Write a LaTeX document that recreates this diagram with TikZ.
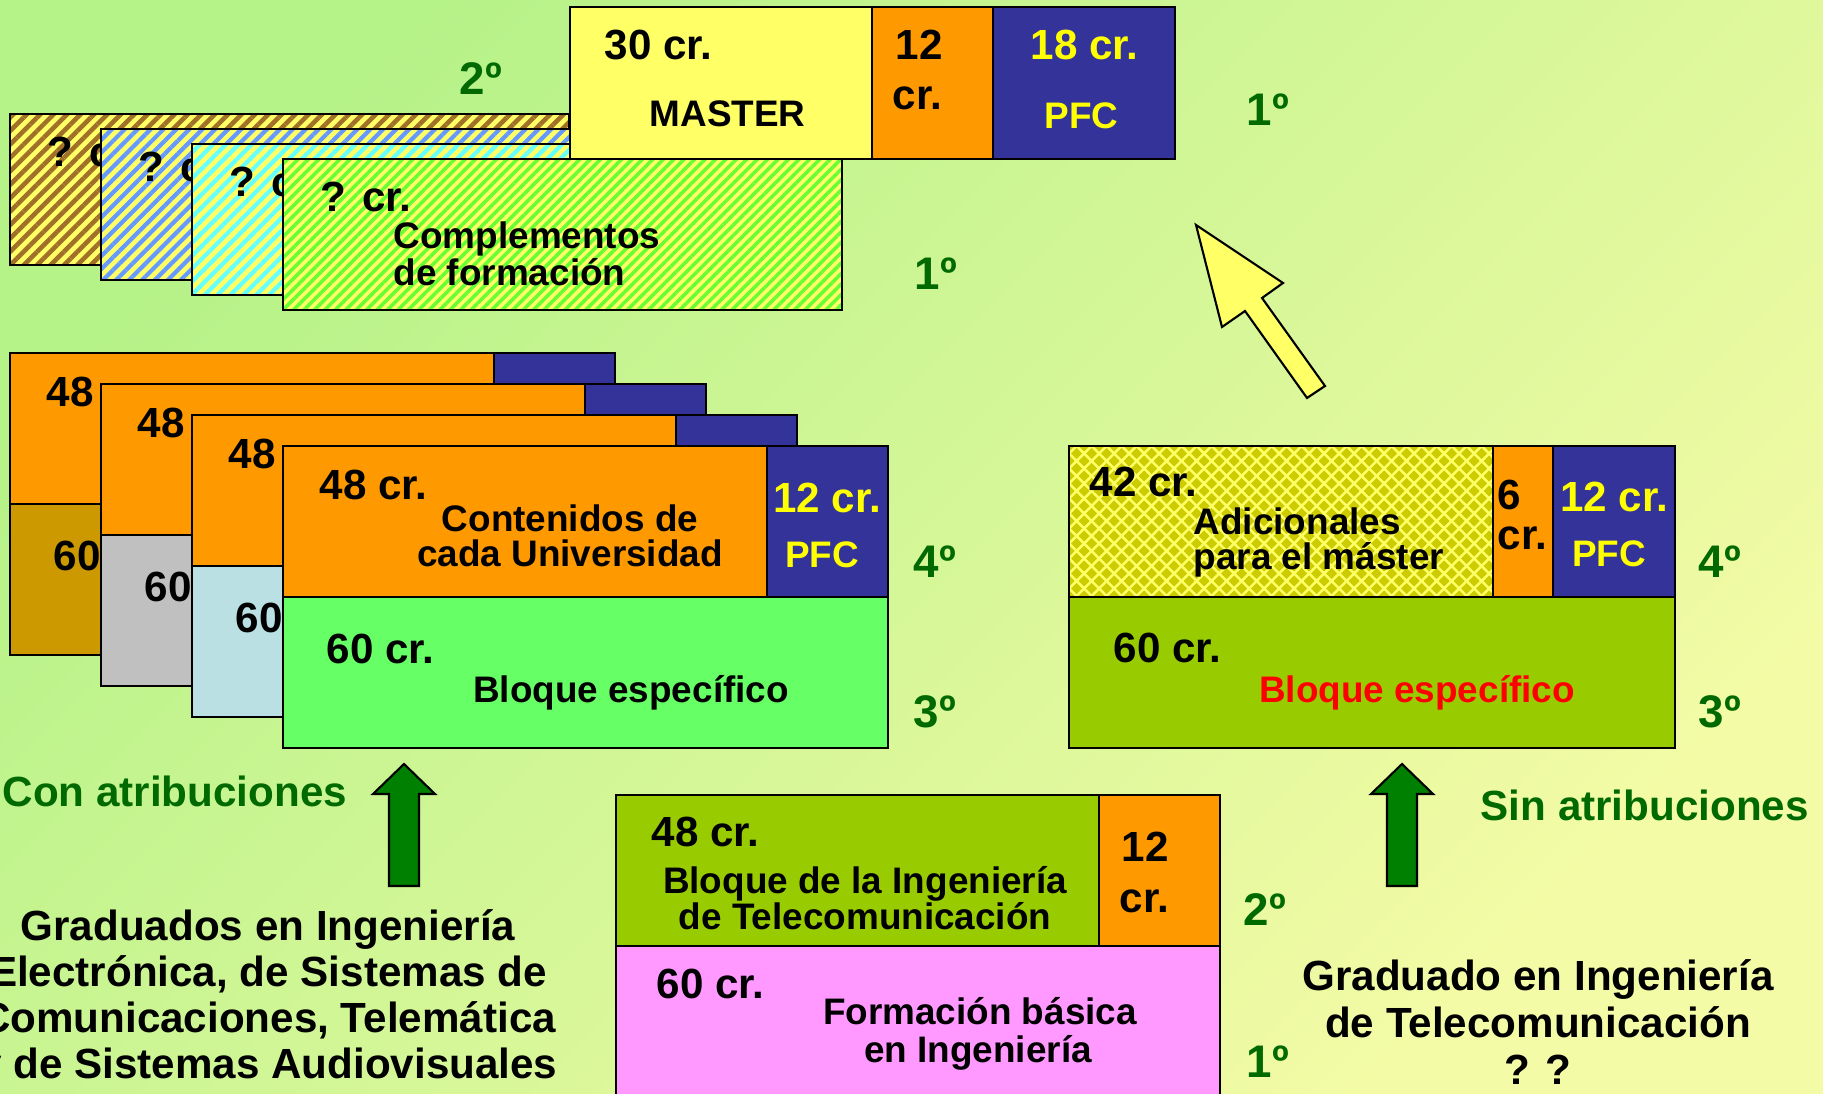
\documentclass[tikz,border=0pt]{standalone}
\usepackage{fontspec}
\setmainfont{Liberation Sans}
\usetikzlibrary{patterns.meta}
\definecolor{bgTL}{RGB}{181,242,136}
\definecolor{bgBR}{RGB}{244,251,166}
\definecolor{paleyel}{RGB}{255,255,102}
\definecolor{textyel}{RGB}{255,255,0}
\definecolor{orng}{RGB}{255,153,0}
\definecolor{navy}{RGB}{51,51,153}
\definecolor{gold}{RGB}{204,153,0}
\definecolor{lgray}{RGB}{192,192,192}
\definecolor{lcyan}{RGB}{186,224,228}
\definecolor{lgreen}{RGB}{102,255,102}
\definecolor{blockgreen}{RGB}{153,204,0}
\definecolor{basepink}{RGB}{255,153,255}
\definecolor{dkgreen}{RGB}{0,105,0}
\definecolor{arrgreen}{RGB}{0,128,0}
\definecolor{diam}{RGB}{204,204,0}
\definecolor{hbrown}{RGB}{160,112,40}
\definecolor{hblue}{RGB}{102,153,255}
\definecolor{hcyan}{RGB}{102,255,255}
\definecolor{hgreen}{RGB}{102,255,51}
\tikzset{
  box/.style={draw=black, line width=0.7pt},
  cr/.style={font=\fontsize{12}{14}\selectfont\bfseries, inner sep=0pt},
  txt/.style={font=\fontsize{10.5}{12}\selectfont\bfseries, inner sep=0pt},
  course/.style={font=\fontsize{13}{15}\selectfont\bfseries, text=dkgreen, inner sep=0pt},
  uparrow/.style={draw=black, line width=0.6pt, fill=arrgreen},
}
\begin{document}
\begin{tikzpicture}[x=0.1mm, y=-0.1mm]
\useasboundingbox (0,0) rectangle (1823,1094);
\shade[top color=bgTL, bottom color=bgBR, shading angle=45] (0,0) rectangle (1823,1094); % background

% complementos de formacion, four hatched sheets
\foreach \k/\col/\d/\w in {0/hbrown/2.7/1.3,1/hblue/2.6/1.2,2/hcyan/2.6/1.2,3/hgreen/2.1/1.0}{
  \fill[paleyel] ({10+91*\k},{114+15*\k}) rectangle +(559,151);
  \fill[pattern={Lines[angle=45,distance=\d pt,line width=\w pt]}, pattern color=\col]
    ({10+91*\k},{114+15*\k}) rectangle +(559,151);
  \draw[box] ({10+91*\k},{114+15*\k}) rectangle +(559,151);
  \node[cr, anchor=base west] (q\k) at ({47+91*\k},{167+15*\k}) {? cr.};
}
\node[txt, anchor=base west] (compa) at (393,249) {Complementos};
\node[txt, anchor=base west] (compb) at (393,286) {de formación};

% master
\draw[box, fill=paleyel] (570,7) rectangle (872,159);
\draw[box, fill=orng] (872,7) rectangle (993,159);
\draw[box, fill=navy] (993,7) rectangle (1175,159);
\node[cr, anchor=base west] (mcr) at (604,60) {30 cr.};
\node[txt, anchor=base west] (mname) at (649,127) {MASTER};
\node[cr, anchor=base west] (mtw) at (895,60) {12};
\node[cr, anchor=base west] (mtwcr) at (892,110) {cr.};
\node[cr, anchor=base west, text=textyel] (mpfc) at (1030,60) {18 cr.};
\node[txt, anchor=base west, text=textyel] (mpfcn) at (1044,129) {PFC};
\node[course, anchor=base west] (ytwotop) at (459,95) {2º};
\node[course, anchor=base west] (yonetop) at (1246,126) {1º};
\node[course, anchor=base west] (yonecomp) at (914,290) {1º};

% yellow arrow to the master
\draw[fill=paleyel, line width=0.6pt] (1196,225) -- (1283,283) -- (1262,298) -- (1325,386)
  -- (1307,398) -- (1245,311) -- (1222,327) -- cycle;

% years 3 and 4, with attributions
\foreach \k/\col in {0/gold,1/lgray,2/lcyan,3/lgreen}{
  \draw[box, fill=orng] ({10+91*\k},{353+31*\k}) rectangle +(484,151);
  \draw[box, fill=navy] ({494+91*\k},{353+31*\k}) rectangle +(121,151);
  \draw[box, fill=\col] ({10+91*\k},{504+31*\k}) rectangle +(605,151);
  \node[cr, anchor=base west] (u\k) at ({46+91*\k},{407+31*\k}) {48 cr.};
  \node[cr, anchor=base west] (s\k) at ({53+91*\k},{571+31*\k}) {60 cr.};
}
\node[txt, anchor=base] (conta) at (570,532) {Contenidos de};
\node[txt, anchor=base] (contb) at (570,567) {cada Universidad};
\node[cr, anchor=base, text=textyel] (upfc) at (827,513) {12 cr.};
\node[txt, anchor=base, text=textyel] (upfcn) at (822,568) {PFC};
\node[txt, anchor=base] (bloq) at (631,703) {Bloque específico};
\node[course, anchor=base west] (yfourl) at (913,578) {4º};
\node[course, anchor=base west] (ythreel) at (913,728) {3º};

% years 3 and 4, without attributions
\begin{scope}
  \clip (1069,446) rectangle (1493,597);
  \fill[paleyel] (1069,446) rectangle (1493,597);
  \foreach \j in {0,...,20}
    \foreach \i in {0,...,28}
      \fill[diam] ({1069+15*\i+7.5*mod(\j,2)},{446+7.5*\j}) +(-5.5,0) -- +(0,-5.5) -- +(5.5,0) -- +(0,5.5) -- cycle;
\end{scope}
\draw[box] (1069,446) rectangle (1493,597);
\draw[box, fill=orng] (1493,446) rectangle (1553,597);
\draw[box, fill=navy] (1553,446) rectangle (1675,597);
\draw[box, fill=blockgreen] (1069,597) rectangle (1675,748);
\node[cr, anchor=base west] (acr) at (1089,497) {42 cr.};
\node[txt, anchor=base west] (adda) at (1193,535) {Adicionales};
\node[txt, anchor=base west] (addb) at (1193,570) {para el máster};
\node[cr, anchor=base west] (six) at (1497,510) {6};
\node[cr, anchor=base west] (sixcr) at (1497,550) {cr.};
\node[cr, anchor=base, text=textyel] (rpfc) at (1614,512) {12 cr.};
\node[txt, anchor=base, text=textyel] (rpfcn) at (1609,567) {PFC};
\node[cr, anchor=base west] (rsixty) at (1113,663) {60 cr.};
\node[txt, anchor=base, text=red] (rbloq) at (1417,703) {Bloque específico};
\node[course, anchor=base west] (yfourr) at (1698,578) {4º};
\node[course, anchor=base west] (ythreer) at (1698,728) {3º};

% years 1 and 2, common
\draw[box, fill=blockgreen] (616,795) rectangle (1099,946);
\draw[box, fill=orng] (1099,795) rectangle (1220,946);
\draw[box, fill=basepink] (616,946) rectangle (1220,1120);
\node[cr, anchor=base west] (tcr) at (651,847) {48 cr.};
\node[txt, anchor=base] (tela) at (865,894) {Bloque de la Ingeniería};
\node[txt, anchor=base] (telb) at (865,930) {de Telecomunicación};
\node[cr, anchor=base west] (ttw) at (1121,862) {12};
\node[cr, anchor=base west] (ttwcr) at (1119,913) {cr.};
\node[course, anchor=base west] (ytwob) at (1243,925) {2º};
\node[cr, anchor=base west] (bsixty) at (656,998) {60 cr.};
\node[txt, anchor=base] (basa) at (980,1024) {Formación básica};
\node[txt, anchor=base] (basb) at (978,1062) {en Ingeniería};
\node[course, anchor=base west] (yoneb) at (1246,1077) {1º};

% green arrows and graduates
\foreach \ax in {404,1402}
  \draw[uparrow] (\ax,764) -- ++(31,30) -- ++(-16,0) -- ++(0,92) -- ++(-30,0) -- ++(0,-92) -- ++(-16,0) -- cycle;
\node[cr, text=dkgreen, anchor=base west] (conatr) at (2,807) {Con atribuciones};
\node[cr, text=dkgreen, anchor=base west] (sinatr) at (1480,821) {Sin atribuciones};
\node[cr, anchor=base] (gla) at (268,940) {Graduados en Ingeniería};
\node[cr, anchor=base] (glb) at (268,986) {Electrónica, de Sistemas de};
\node[cr, anchor=base] (glc) at (268,1032) {Comunicaciones, Telemática};
\node[cr, anchor=base] (gld) at (268,1078) {y de Sistemas Audiovisuales};
\node[cr, anchor=base] (gra) at (1538,990) {Graduado en Ingeniería};
\node[cr, anchor=base] (grb) at (1538,1037) {de Telecomunicación};
\node[cr, anchor=base] (grc) at (1538,1084) {? ?};
\end{tikzpicture}
\end{document}
